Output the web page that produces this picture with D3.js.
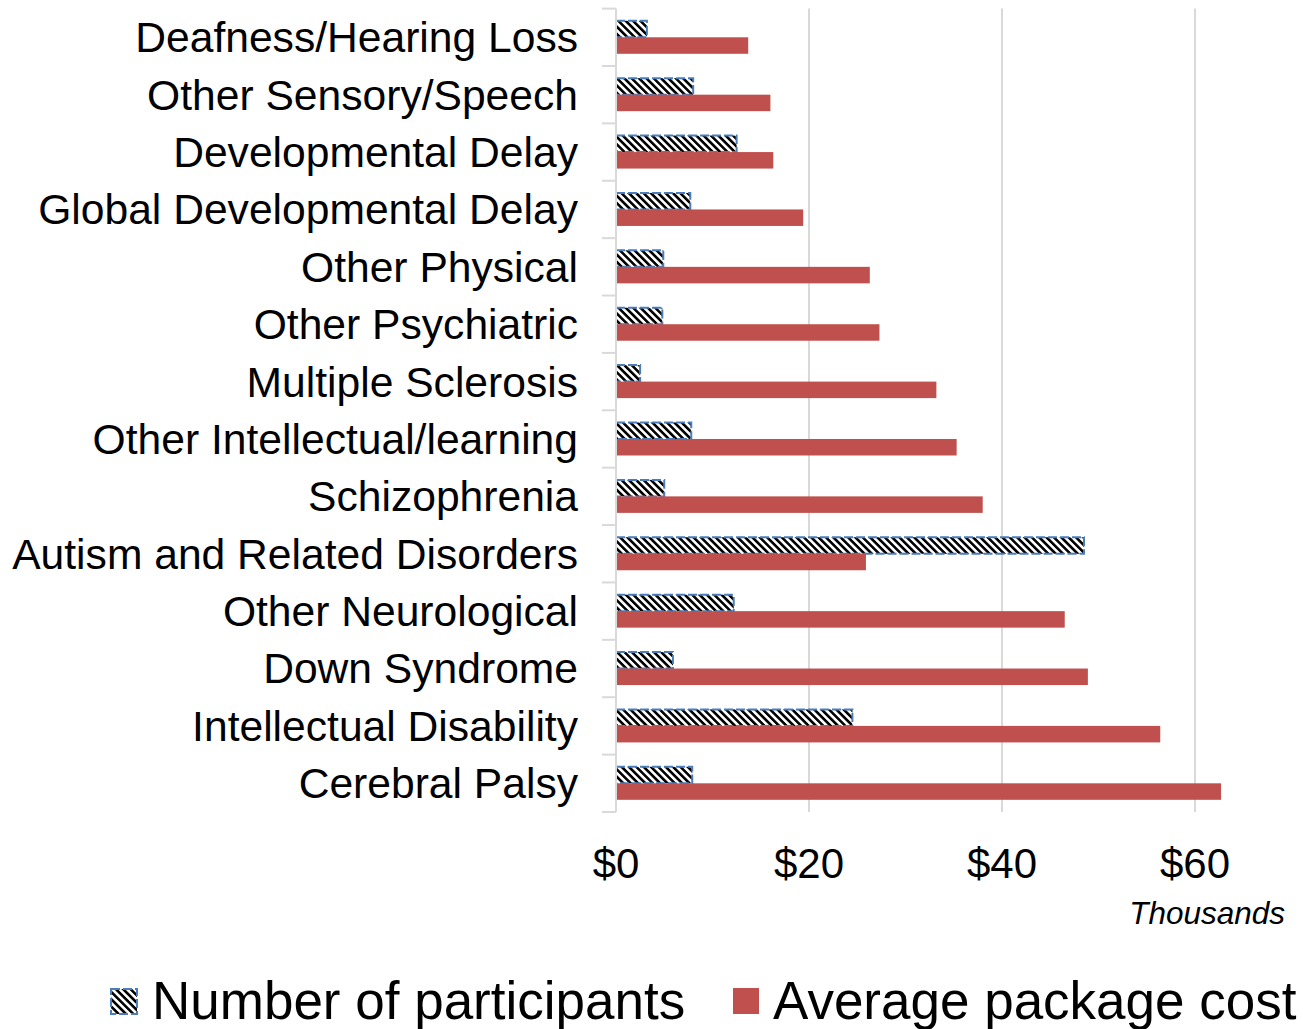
<!DOCTYPE html>
<html><head><meta charset="utf-8">
<script src="https://cdn.jsdelivr.net/npm/d3@7"></script>
<style>body{margin:0;background:#fff}svg{display:block}text{font-family:"Liberation Sans",Arial,sans-serif}</style>
</head><body><svg id="c" width="1303" height="1029"></svg>
<script>
const categories = ["Deafness/Hearing Loss","Other Sensory/Speech","Developmental Delay","Global Developmental Delay","Other Physical","Other Psychiatric","Multiple Sclerosis","Other Intellectual/learning","Schizophrenia","Autism and Related Disorders","Other Neurological","Down Syndrome","Intellectual Disability","Cerebral Palsy"];
const participants = [3.2,8.0,12.5,7.7,4.9,4.8,2.5,7.8,5.0,48.5,12.2,5.9,24.5,7.9];
const avgCost = [13.7,16.0,16.3,19.4,26.3,27.3,33.2,35.3,38.0,25.9,46.5,48.9,56.4,62.7];
const tickValues = [0,20,40,60];
const seriesNames = ["Number of participants","Average package cost"];

(function(){
const svg = d3.select("#c");
const defs = svg.append("defs");
const pat = defs.append("pattern").attr("id","hatch").attr("patternUnits","userSpaceOnUse")
  .attr("width",5.2).attr("height",5.2).attr("patternTransform","rotate(-45)");
pat.append("rect").attr("width",5.2).attr("height",5.2).attr("fill","#fff");
pat.append("rect").attr("width",2.6).attr("height",5.2).attr("fill","#000");

const mLeft = 616, mTop = 8.6, mBottom = 812;
const x = d3.scaleLinear().domain([0,70]).range([mLeft, mLeft + 70*9.65]);
const y = d3.scaleBand().domain(categories).range([mTop,mBottom]).paddingInner(0.425).paddingOuter(0.2125);
const sub = d3.scaleBand().domain(seriesNames).range([0,y.bandwidth()]);

svg.append("g").selectAll("line").data(tickValues.slice(1)).join("line")
  .attr("x1",d=>x(d)).attr("x2",d=>x(d)).attr("y1",mTop).attr("y2",mBottom)
  .attr("stroke","#d9d9d9").attr("stroke-width",2);

const g = svg.append("g");
g.selectAll("rect.p").data(categories).join("rect").attr("class","p")
  .attr("x",x(0)).attr("y",d=>y(d)+sub(seriesNames[0]))
  .attr("width",(d,i)=>x(participants[i])-x(0)).attr("height",sub.bandwidth())
  .attr("fill","url(#hatch)").attr("stroke","#4a7ebb").attr("stroke-width",2).attr("stroke-dasharray","9,3");
g.selectAll("rect.c").data(categories).join("rect").attr("class","c")
  .attr("x",x(0)).attr("y",d=>y(d)+sub(seriesNames[1]))
  .attr("width",(d,i)=>x(avgCost[i])-x(0)).attr("height",sub.bandwidth())
  .attr("fill","#c0504d");

const step = y.step();
const bounds = d3.range(categories.length+1).map(i=>mTop + i*step);
svg.append("line").attr("x1",mLeft).attr("x2",mLeft).attr("y1",mTop).attr("y2",mBottom).attr("stroke","#d9d9d9").attr("stroke-width",2);
svg.append("g").selectAll("line").data(bounds).join("line")
  .attr("x1",mLeft-14).attr("x2",mLeft).attr("y1",d=>d).attr("y2",d=>d).attr("stroke","#d9d9d9").attr("stroke-width",2);
svg.append("g").selectAll("text").data(categories).join("text")
  .attr("x",578).attr("y",d=>y(d)+y.bandwidth()/2).attr("dy","0.35em")
  .attr("text-anchor","end").attr("font-size",42.6).attr("fill","#000").text(d=>d);

svg.append("g").selectAll("text").data(tickValues).join("text")
  .attr("x",d=>x(d)).attr("y",878).attr("text-anchor","middle").attr("font-size",42).attr("fill","#000")
  .text(d=>"$"+d);
svg.append("text").attr("x",1285).attr("y",924).attr("text-anchor","end").attr("font-size",31.5)
  .attr("font-style","italic").attr("fill","#000").text("Thousands");

const lg = svg.append("g");
lg.append("rect").attr("x",111).attr("y",989).attr("width",26).attr("height",25)
  .attr("fill","url(#hatch)").attr("stroke","#4a7ebb").attr("stroke-width",2).attr("stroke-dasharray","9,3");
lg.append("text").attr("x",152).attr("y",1019).attr("font-size",53).attr("fill","#000").text(seriesNames[0]);
lg.append("rect").attr("x",733).attr("y",988).attr("width",26).attr("height",26).attr("fill","#c0504d");
lg.append("text").attr("x",773).attr("y",1019).attr("font-size",53).attr("fill","#000").text(seriesNames[1]);
})();
</script></body></html>
